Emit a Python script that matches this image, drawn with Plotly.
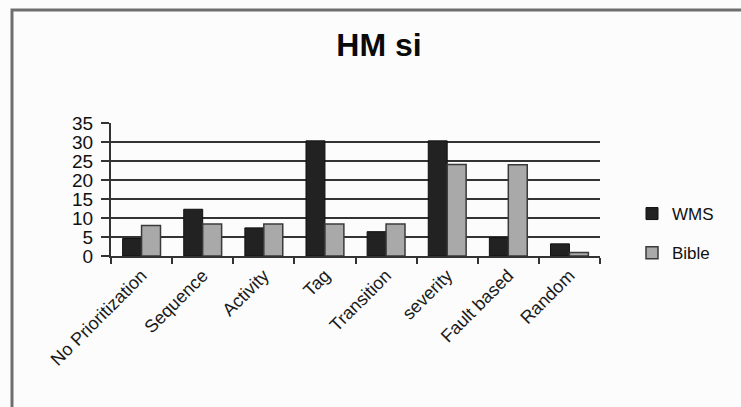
import plotly.graph_objects as go

# Data
categories = ["No Prioritization", "Sequence", "Activity", "Tag",
              "Transition", "severity", "Fault based", "Random"]
wms_values = [4.6, 12.3, 7.4, 30.3, 6.4, 30.3, 4.8, 3.2]
bible_values = [8.0, 8.4, 8.4, 8.4, 8.4, 24.1, 24.0, 0.9]
y_ticks = [0, 5, 10, 15, 20, 25, 30, 35]

W, H = 741, 407
L, R, T, B = 111, 141, 123, 151
pw, ph = W - L - R, H - T - B

fig = go.Figure()
fig.add_trace(go.Bar(
    name="WMS", x=categories, y=wms_values,
    marker=dict(color="#222222", line=dict(color="#111111", width=1)),
    legendgroup="a",
))
fig.add_trace(go.Bar(
    name="Bible", x=categories, y=bible_values,
    marker=dict(color="#a9a9a9", line=dict(color="#3a3a3a", width=1.5)),
    legendgroup="b",
))

def px_to_paper_x(px):
    return (px - L) / pw

def px_to_paper_y(py):
    return (H - B - py) / ph

fig.update_layout(
    width=W, height=H,
    margin=dict(l=L, r=R, t=T, b=B),
    paper_bgcolor="#fcfcfc",
    plot_bgcolor="#fcfcfc",
    barmode="group",
    bargap=0.38,
    bargroupgap=0,
    font=dict(family="Liberation Sans, Arial", color="#111111"),
    title=dict(
        text="<b>HM si</b>",
        font=dict(size=32, color="#0a0a0a"),
        x=379 / W, xref="container", xanchor="center",
        y=1 - 45 / H, yref="container", yanchor="middle",
    ),
    legend=dict(
        x=px_to_paper_x(632), xanchor="left",
        y=px_to_paper_y(196), yanchor="top",
        font=dict(size=17, color="#111111"),
        bgcolor="rgba(0,0,0,0)",
        tracegroupgap=14,
        itemwidth=30,
    ),
    xaxis=dict(
        type="category",
        tickson="boundaries",
        ticks="outside", ticklen=6, tickwidth=2, tickcolor="#333333",
        showline=True, linecolor="#333333", linewidth=2,
        showgrid=False,
        tickangle=-45,
        tickfont=dict(size=18, color="#1a1a1a"),
    ),
    yaxis=dict(
        range=[0, 35],
        tickvals=y_ticks,
        ticks="outside", ticklen=8, tickwidth=2, tickcolor="#333333",
        showline=True, linecolor="#333333", linewidth=2,
        showgrid=True, gridcolor="#333333", gridwidth=2,
        zeroline=False,
        ticklabelstandoff=4,
        tickfont=dict(size=19, color="#111111"),
    ),
    shapes=[
        # outer chart frame
        dict(type="rect", xref="paper", yref="paper",
             x0=px_to_paper_x(12), x1=px_to_paper_x(760),
             y0=px_to_paper_y(420), y1=px_to_paper_y(10),
             line=dict(color="#6e6e6e", width=3), fillcolor="rgba(0,0,0,0)",
             layer="below"),
    ],
)

fig.write_html("out.html")
